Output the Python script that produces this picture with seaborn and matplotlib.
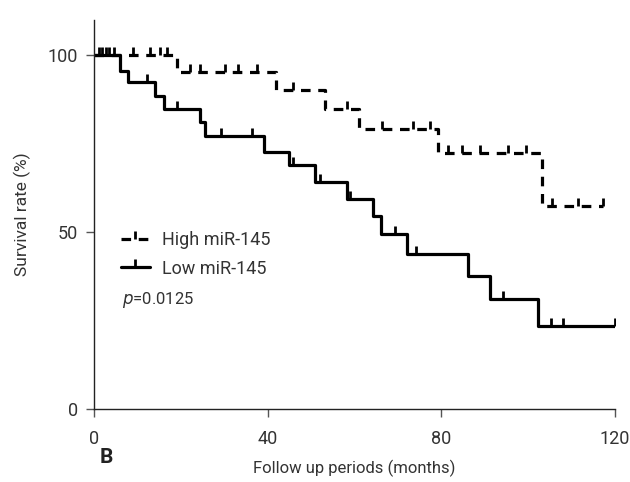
import numpy as np
import pandas as pd
import seaborn as sns
import matplotlib.pyplot as plt
from matplotlib.lines import Line2D

# step curves (months, survival %)
high_t = [0, 19.0, 41.9, 53.2, 61.1, 79.3, 103.2, 117.3]
high_s = [100, 95.2, 90.3, 84.9, 79.3, 72.4, 57.5, 57.5]
low_t = [0, 5.9, 7.8, 14.0, 16.1, 24.4, 25.6, 39.1, 44.9, 50.9, 58.2, 64.2,
         66.1, 72.1, 86.2, 91.2, 102.3, 120]
low_s = [100, 95.7, 92.4, 88.5, 84.9, 81.2, 77.2, 72.8, 69.0, 64.2, 59.4, 54.7,
         49.5, 43.9, 37.6, 31.2, 23.4, 23.4]

# censored times
high_cens = [1.0, 1.8, 2.6, 3.5, 4.5, 9.0, 12.8, 15.1, 16.7, 22.1, 24.4, 30.1,
             33.2, 37.4, 45.9, 58.3, 66.2, 73.5, 77.4, 81.6, 84.8, 89.0, 95.4,
             99.5, 105.4, 111.5, 117.3]
low_cens = [12.1, 19.0, 29.1, 36.3, 45.8, 52.0, 58.9, 69.3, 74.1, 94.1, 105.2,
            108.1, 120]

groups = ["High miR-145", "Low miR-145"]
x_ticks = [0, 40, 80, 120]
y_ticks = [0, 50, 100]

sns.set_style("ticks")
plt.rcParams['font.family'] = ['Roboto', 'DejaVu Sans']

df = pd.concat([
    pd.DataFrame({"month": high_t, "surv": high_s, "group": groups[0]}),
    pd.DataFrame({"month": low_t, "surv": low_s, "group": groups[1]}),
])

fig = plt.figure(figsize=(6.3, 4.82), dpi=100)
ax = fig.add_axes([0.1497, 0.1508, 0.8265, 0.8077])

dash_map = {groups[0]: (3, 2.4), groups[1]: ""}
sns.lineplot(data=df, x="month", y="surv", hue="group", style="group",
             palette={g: "black" for g in groups}, dashes=dash_map,
             drawstyle="steps-post", estimator=None, sort=False,
             linewidth=2.3, legend=False, ax=ax)

# censor ticks sit on top of the curve
tick_mark = [(0, 0), (0, 1)]


def surv_at(times, surv, t):
    i = np.searchsorted(times, t, side="right") - 1
    return surv[i]


hc_y = [surv_at(high_t, high_s, t) for t in high_cens]
lc_y = [surv_at(low_t, low_s, t) for t in low_cens]
ax.plot(high_cens, hc_y, ls="none", marker=tick_mark, ms=11, mew=2, color="black")
ax.plot(low_cens, lc_y, ls="none", marker=tick_mark, ms=11, mew=2, color="black")

ax.set_xlim(0, 120)
ax.set_ylim(0, 110)
ax.set_xticks(x_ticks)
ax.set_yticks(y_ticks)
ax.tick_params(labelsize=13, labelcolor="#333333", color="#555555", length=6, width=1)
ax.tick_params(axis="x", pad=9)
ax.tick_params(axis="y", pad=5.5)
sns.despine(ax=ax)
for s in ["left", "bottom"]:
    ax.spines[s].set_color("#222222")
    ax.spines[s].set_linewidth(1)

ax.set_xlabel("Follow up periods (months)", fontsize=12, color="#333333", labelpad=8)
ax.set_ylabel("Survival rate (%)", fontsize=12.5, color="#333333", labelpad=12)

handles = [
    Line2D([], [], color="black", lw=2.3, ls=(0, (3, 2.4)), marker=tick_mark, ms=11, mew=2),
    Line2D([], [], color="black", lw=2.3, ls="-", marker=tick_mark, ms=11, mew=2),
]
leg = ax.legend(handles, groups, loc="upper left", bbox_to_anchor=(0.02, 0.50),
                frameon=False, fontsize=13, handlelength=1.6, handletextpad=0.65,
                labelspacing=0.6, numpoints=1)
for t in leg.get_texts():
    t.set_color("#333333")

ax.text(0.053, 0.28, r"$p$=0.0125", transform=ax.transAxes, fontsize=12,
        color="#333333", va="center")
fig.text(0.158, 0.05, "B", fontsize=15, fontweight="bold", color="#222222",
         va="center")

fig.savefig("out.png", dpi=100)
